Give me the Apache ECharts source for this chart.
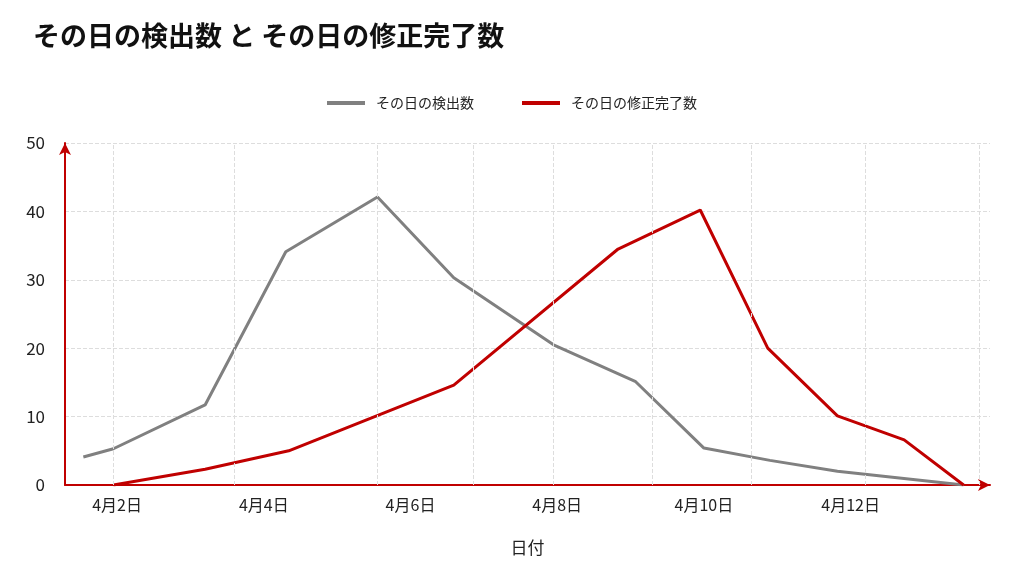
<!DOCTYPE html>
<html><head><meta charset="utf-8">
<script src="https://cdn.jsdelivr.net/npm/echarts@6/dist/echarts.min.js"></script>
<style>html,body{margin:0;background:#fff}#c{width:1024px;height:576px}</style>
</head><body><div id="c"></div>
<script>
// x values are April day numbers
var detectX = [1.54, 1.95, 3.2, 4.3, 5.55, 6.59, 7.95, 9.07, 10.0, 10.9, 11.82, 13.54];
var detectY = [4.1, 5.3, 11.7, 34.1, 42.1, 30.3, 20.5, 15.1, 5.4, 3.6, 2.0, 0];
var fixX = [1.95, 3.2, 4.34, 6.59, 8.83, 9.95, 10.87, 11.82, 12.73, 13.54];
var fixY = [0, 2.3, 5.0, 14.6, 34.5, 40.2, 20, 10.1, 6.6, 0];
var tickDays = [2, 4, 6, 8, 10, 12];
var gridDays = [1.95, 3.6, 5.55, 6.85, 7.95, 9.3, 10.65, 12.2, 13.75];

function pairs(xs, ys) { return xs.map(function (x, i) { return [x, ys[i]]; }); }

var chart = echarts.init(document.getElementById('c'));
var font = "'Noto Sans CJK JP', sans-serif";
chart.setOption({
    textStyle: {fontFamily: font},
    title: {text: 'その日の検出数 と その日の修正完了数', left: 28, top: 17,
        textStyle: {fontSize: 27, fontWeight: 'bold', color: '#111', fontFamily: font}},
    legend: {top: 91, left: 'center', itemWidth: 38, itemGap: 48, icon: 'rect', itemHeight: 4,
        textStyle: {fontSize: 14, color: '#222', padding: [0, 0, 0, 6]}},
    grid: {left: 65, right: 34, top: 143, bottom: 91},
    xAxis: {
        type: 'value', min: 1.29, max: 13.9,
        name: '日付', nameLocation: 'middle', nameGap: 54,
        nameTextStyle: {fontSize: 17, color: '#222'},
        axisLine: {lineStyle: {color: '#c00000', width: 2}, symbol: ['none', 'arrow'], symbolSize: [9, 12]},
        axisTick: {show: false},
        axisLabel: {customValues: tickDays, fontSize: 16, color: '#222', margin: 12,
            formatter: function (v) { return '4月' + v + '日'; }},
        splitLine: {show: false}
    },
    yAxis: {
        type: 'value', min: 0, max: 50, interval: 10,
        axisLine: {show: true, lineStyle: {color: '#c00000', width: 2}, symbol: ['none', 'arrow'], symbolSize: [9, 12]},
        axisTick: {show: false},
        axisLabel: {fontSize: 17, color: '#222', margin: 20},
        splitLine: {lineStyle: {color: '#ddd', type: 'dashed'}}
    },
    series: [
        {name: 'その日の検出数', type: 'line', data: pairs(detectX, detectY), showSymbol: false,
            lineStyle: {color: '#808080', width: 3}, itemStyle: {color: '#808080'},
            markLine: {silent: true, symbol: 'none', label: {show: false},
                lineStyle: {color: '#ddd', type: 'dashed', width: 1},
                data: gridDays.map(function (d) { return {xAxis: d}; })}},
        {name: 'その日の修正完了数', type: 'line', data: pairs(fixX, fixY), showSymbol: false,
            lineStyle: {color: '#c00000', width: 3}, itemStyle: {color: '#c00000'}}
    ]
});
</script></body></html>
